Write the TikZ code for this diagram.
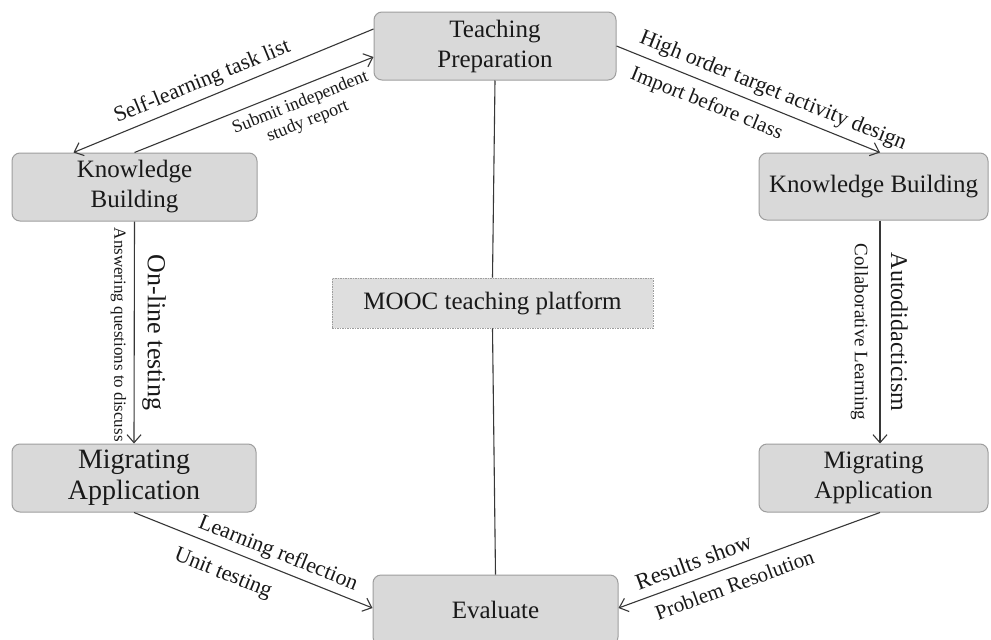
\documentclass[tikz,border=0pt]{standalone}
\usepackage{fontspec}
\setmainfont{Liberation Serif}
\usetikzlibrary{arrows.meta,calc}
\definecolor{boxfill}{RGB}{217,217,217}
\definecolor{boxline}{RGB}{158,158,158}
\definecolor{lin}{RGB}{55,55,55}
\definecolor{txt}{RGB}{25,25,25}
\definecolor{moocfill}{RGB}{222,222,222}
\begin{document}
\begin{tikzpicture}[x=1pt,y=-1pt,
  box/.style={draw=boxline, fill=boxfill, rounded corners=8pt, line width=1pt,
    inner sep=0pt, align=center, text=txt, font=\fontsize{25}{30}\selectfont},
  conn/.style={draw=lin, line width=1.1pt},
  arr/.style={conn, -{Straight Barb[length=8pt,width=14pt,line width=1.1pt]}},
  lab/.style={text=txt, sloped, inner sep=2pt, align=center},
  vlabR/.style={text=txt, rotate=-90, anchor=south, inner sep=2pt},
  vlabL/.style={text=txt, rotate=-90, anchor=north, inner sep=2pt}
]
\fill[white] (0,0) rectangle (991,640);
\useasboundingbox (0,0) rectangle (991,640);

% nodes
\node[box, minimum width=242pt, minimum height=68pt] (tp) at (495,46) {Teaching\\Preparation};
\node[box, minimum width=245pt, minimum height=68pt] (kbl) at (134.5,187) {Knowledge\\Building};
\node[box, minimum width=229pt, minimum height=67pt] (kbr) at (873.5,186.5) {Knowledge Building};
\node[box, minimum width=244pt, minimum height=68pt, font=\fontsize{28}{31}\selectfont] (mal) at (134,478) {Migrating\\Application};
\node[box, minimum width=229pt, minimum height=68pt] (mar) at (873.5,478) {Migrating\\Application};
\node[box, minimum width=245pt, minimum height=70pt] (ev) at (495.5,610) {Evaluate};
\node[draw=boxline, fill=moocfill, line width=0.8pt, dash pattern=on 1.5pt off 1pt,
  minimum width=321pt, minimum height=50pt, inner sep=0pt, text=txt,
  font=\fontsize{25}{30}\selectfont] (mooc) at (492.5,303) {MOOC teaching platform};

% central lines
\draw[conn] (tp.south) -- (mooc.north);
\draw[conn] (mooc.south) -- (ev.north);

% top-left
\draw[arr] ([yshift=17pt]tp.west) -- node[lab, above=3.5pt, pos=0.55, font=\fontsize{22}{24}\selectfont]{Self-learning task list} ([xshift=-61pt]kbl.north);
\draw[arr] (kbl.north) -- node[lab, below=5pt, pos=0.67, font=\fontsize{18}{20}\selectfont]{Submit independent\\study report} ([yshift=-11pt]tp.west);

% top-right
\draw[arr] (tp.east) -- node[lab, above=4pt, pos=0.57, font=\fontsize{22}{24}\selectfont]{High order target activity design}
  node[lab, below=8pt, pos=0.37, font=\fontsize{21}{23}\selectfont]{Import before class} ([xshift=6.5pt]kbr.north);

% verticals
\draw[arr] (kbl.south) -- node[vlabR, outer sep=6pt, pos=0.5, font=\fontsize{26}{28}\selectfont]{On-line testing}
  node[vlabL, outer sep=6pt, pos=0.51, font=\fontsize{17}{19}\selectfont]{Answering questions to discuss} (mal.north);
\draw[arr] ([xshift=6.5pt]kbr.south) -- node[vlabR, outer sep=9pt, pos=0.5, font=\fontsize{24}{26}\selectfont]{Autodidacticism}
  node[vlabL, outer sep=10pt, pos=0.5, font=\fontsize{19}{21}\selectfont]{Collaborative Learning} ([xshift=6.5pt]mar.north);

% bottom
\draw[arr] (mal.south) -- node[lab, above=2.5pt, pos=0.58, font=\fontsize{22}{24}\selectfont]{Learning reflection}
  node[lab, below=12pt, pos=0.41, font=\fontsize{22}{24}\selectfont]{Unit testing} ([yshift=2pt]ev.west);
\draw[arr] ([xshift=6.5pt]mar.south) -- node[lab, above=7pt, pos=0.69, font=\fontsize{23}{25}\selectfont]{Results show}
  node[lab, below=8pt, pos=0.58, font=\fontsize{21}{23}\selectfont]{Problem Resolution} ([yshift=2pt]ev.east);
\end{tikzpicture}
\end{document}
